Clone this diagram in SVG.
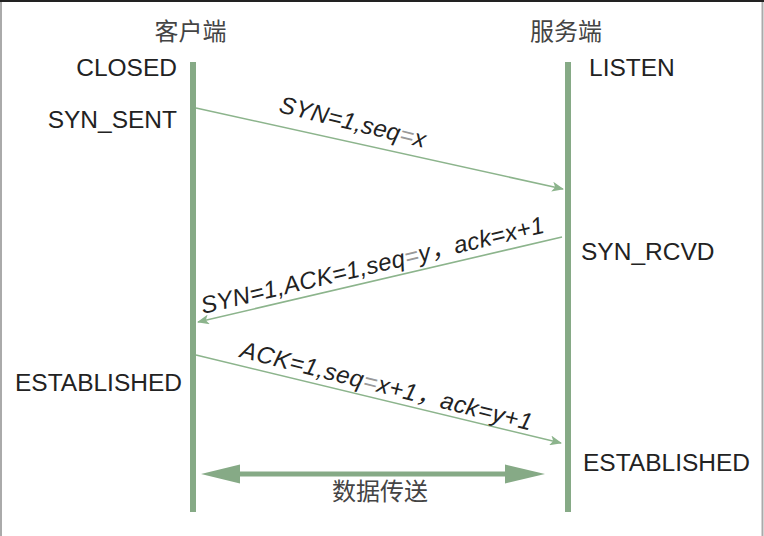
<svg xmlns="http://www.w3.org/2000/svg" width="764" height="536" viewBox="0 0 764 536">
<style>
.st{font-family:"Liberation Sans","Noto Sans CJK SC",sans-serif;font-size:24.5px;fill:#222}
.hd{font-family:"Liberation Sans","Noto Sans CJK SC",sans-serif;font-size:24px;fill:#444;text-anchor:middle}
.lb{font-family:"Liberation Sans","Noto Sans CJK SC",sans-serif;font-size:24px;font-style:italic;fill:#222}
.life{stroke:#86aa86;stroke-width:6}
.msg{stroke:#8cb48c;stroke-width:1.6;fill:none}
.eq{fill:#999}
</style>
<defs>
<marker id="ah" viewBox="0 0 12 10" refX="11" refY="5" markerWidth="12" markerHeight="10" markerUnits="userSpaceOnUse" orient="auto">
<path d="M0,0 L12,5 L0,10 L3,5 Z" fill="#8cb48c"/>
</marker>
</defs>
<rect x="0" y="0" width="764" height="536" fill="#fff"/>
<line x1="1" y1="0" x2="1" y2="536" stroke="#aaa" stroke-width="2"/>
<line x1="762.5" y1="0" x2="762.5" y2="536" stroke="#aaa" stroke-width="2"/>
<line x1="0" y1="1" x2="764" y2="1" stroke="#222" stroke-width="2"/>

<g id="client">
<text class="hd" x="190.5" y="40">客户端</text>
<line class="life" x1="193" y1="62" x2="193" y2="512"/>
<text class="st" x="177" y="76" text-anchor="end">CLOSED</text>
<text class="st" x="177" y="128" text-anchor="end">SYN_SENT</text>
<text class="st" x="182" y="391" text-anchor="end">ESTABLISHED</text>
</g>

<g id="server">
<text class="hd" x="566" y="40">服务端</text>
<line class="life" x1="568" y1="62" x2="568" y2="512"/>
<text class="st" x="589" y="76">LISTEN</text>
<text class="st" x="581" y="260">SYN_RCVD</text>
<text class="st" x="583" y="471">ESTABLISHED</text>
</g>

<g id="connectors">
<line class="msg" x1="196" y1="108" x2="563" y2="189" marker-end="url(#ah)"/>
<line class="msg" x1="562" y1="237" x2="198" y2="322" marker-end="url(#ah)"/>
<line class="msg" x1="196" y1="355" x2="561" y2="443" marker-end="url(#ah)"/>
<g id="data-transfer">
<line x1="230" y1="474" x2="515" y2="474" stroke="#86aa86" stroke-width="5"/>
<polygon points="201,474 240,464.5 240,483.5" fill="#86aa86"/>
<polygon points="545,474 505,464.5 505,483.5" fill="#86aa86"/>
</g>
</g>

<g id="labels">
<text class="lb" transform="translate(278,112) rotate(13.8)" textLength="150" lengthAdjust="spacing">SYN=1,seq<tspan class="eq">=</tspan>x</text>
<text class="lb" transform="translate(203,314) rotate(-13.4)" textLength="352" lengthAdjust="spacing">SYN=1,ACK=1,seq<tspan class="eq">=</tspan>y，ack=x+1</text>
<text class="lb" transform="translate(239,357) rotate(14.2)" textLength="300" lengthAdjust="spacing">ACK=1,seq<tspan class="eq">=</tspan>x+1，ack=y+1</text>
<text class="hd" x="380" y="500">数据传送</text>
</g>
</svg>
